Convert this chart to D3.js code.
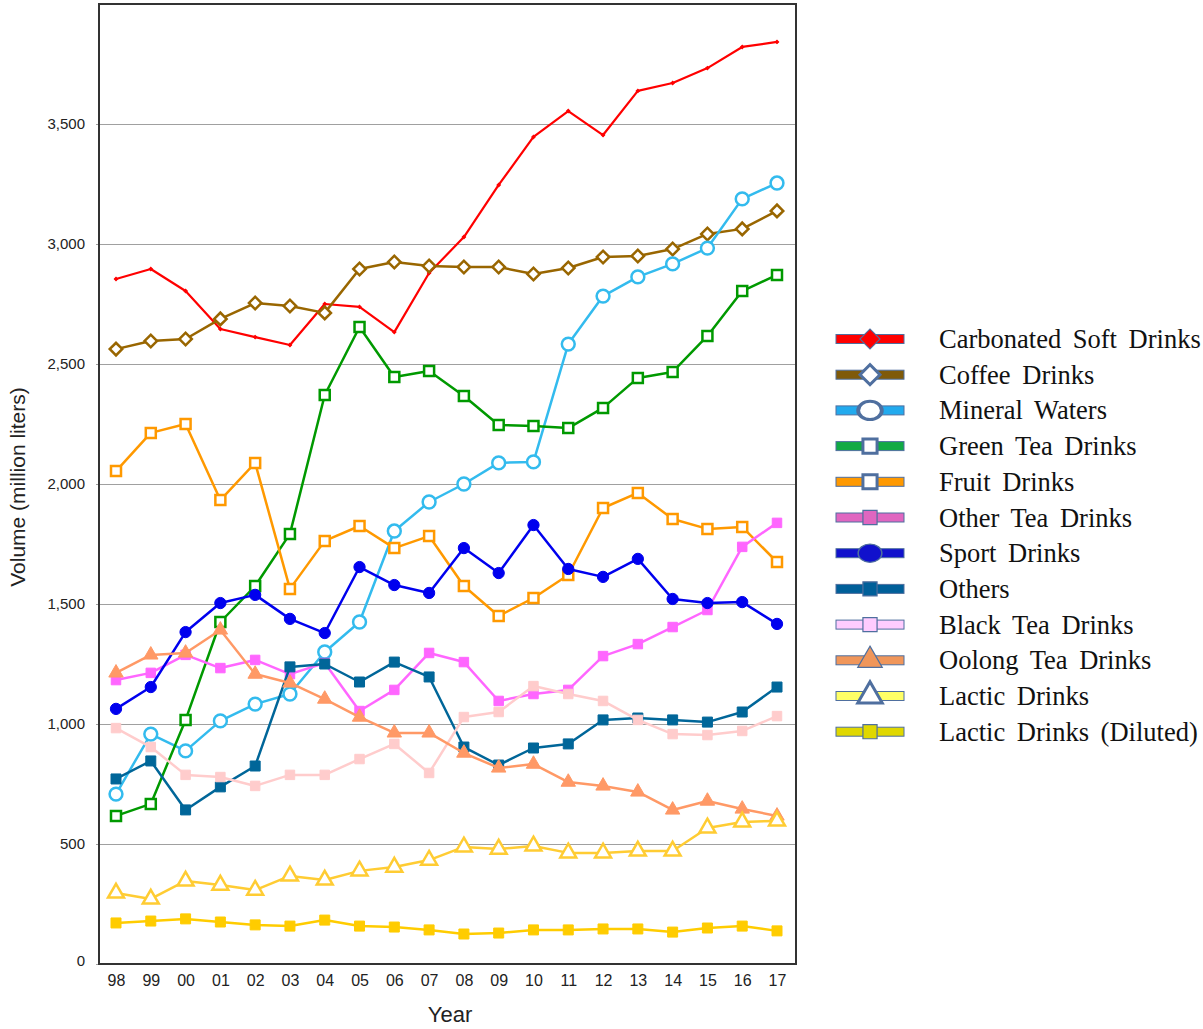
<!DOCTYPE html>
<html>
<head>
<meta charset="utf-8">
<script src="https://cdn.jsdelivr.net/npm/d3@7"></script>
<style>
  body { margin: 0; background: #fff; }
  svg { display: block; }
</style>
</head>
<body>
<div id="chart"></div>
<script>
/* DATA */
var years = ["98","99","00","01","02","03","04","05","06","07","08","09","10","11","12","13","14","15","16","17"];
var yTicks = [0, 500, 1000, 1500, 2000, 2500, 3000, 3500];

var carbonated = [2854,2896,2804,2646,2612,2579,2750,2738,2633,2879,3029,3246,3446,3554,3454,3638,3671,3733,3821,3842];
var coffee = [2562,2596,2604,2688,2754,2742,2713,2896,2925,2908,2904,2904,2875,2900,2946,2950,2979,3042,3063,3138];
var mineral = [708,958,888,1013,1083,1125,1300,1425,1804,1925,2000,2088,2092,2583,2783,2863,2917,2983,3188,3254];
var greenTea = [617,667,1017,1425,1575,1792,2371,2654,2446,2471,2367,2246,2242,2233,2317,2442,2467,2617,2804,2871];
var fruit = [2054,2213,2250,1933,2088,1563,1763,1825,1733,1783,1575,1450,1525,1621,1900,1963,1854,1813,1821,1675];
var otherTea = [1183,1213,1288,1233,1267,1208,1254,1054,1142,1296,1258,1096,1125,1142,1283,1333,1404,1475,1738,1838];
var sport = [1063,1154,1383,1504,1538,1438,1379,1654,1579,1546,1733,1629,1829,1646,1613,1688,1521,1504,1508,1417];
var others = [771,846,642,738,825,1238,1250,1175,1258,1196,904,829,900,917,1017,1025,1017,1008,1050,1154];
var blackTea = [983,904,788,779,742,788,788,854,917,796,1029,1050,1158,1125,1096,1017,958,954,971,1033];
var oolong = [1213,1288,1296,1392,1208,1171,1104,1029,963,963,879,817,833,758,742,717,642,679,646,617];
var lactic = [296,271,346,329,308,367,350,388,404,433,488,479,492,463,463,471,471,567,592,596];
var lacticDiluted = [171,179,188,175,163,158,183,158,154,142,125,129,142,142,146,146,133,150,158,138];

var seriesNames = ["Carbonated Soft Drinks","Coffee Drinks","Mineral Waters","Green Tea Drinks","Fruit Drinks","Other Tea Drinks","Sport Drinks","Others","Black Tea Drinks","Oolong Tea Drinks","Lactic Drinks","Lactic Drinks (Diluted)"];
var seriesValues = [carbonated, coffee, mineral, greenTea, fruit, otherTea, sport, others, blackTea, oolong, lactic, lacticDiluted];

/* STYLES (per series) */
var styles = [
  {color: "#ff0000", shape: "diamond", open: false, size: 6,  width: 2.2, band: "#ff0000"},
  {color: "#996600", shape: "diamond", open: true,  size: 78, width: 2.5, band: "#7f5a0a"},
  {color: "#33bbee", shape: "circle",  open: true,  size: 130, width: 2.5, band: "#22aaee"},
  {color: "#009900", shape: "square",  open: true,  size: 100, width: 2.5, band: "#11aa44"},
  {color: "#ff9900", shape: "square",  open: true,  size: 100, width: 2.5, band: "#ff9900"},
  {color: "#ff66ff", shape: "square",  open: false, size: 90, width: 2.5, band: "#e066c0"},
  {color: "#0000ee", shape: "circle",  open: false, size: 100, width: 2.5, band: "#1111cc"},
  {color: "#006699", shape: "square",  open: false, size: 100, width: 2.5, band: "#005f99"},
  {color: "#ffcccc", shape: "square",  open: false, size: 90, width: 2.5, band: "#ffccff"},
  {color: "#ff9966", shape: "triangle",open: false, size: 90, width: 2.5, band: "#f0965a"},
  {color: "#ffcc33", shape: "triangle",open: true,  size: 110, width: 2.5, band: "#ffff66"},
  {color: "#ffcc00", shape: "square",  open: false, size: 100, width: 2.5, band: "#e0d800"}
];

/* layout */
var W = 1203, H = 1029;
var plot = {left: 99, top: 4, right: 796, bottom: 964};

var svg = d3.select("#chart").append("svg")
  .attr("width", W)
  .attr("height", H);

var x = d3.scaleLinear().domain([0, years.length - 1]).range([116, 777]);
var y = d3.scaleLinear().domain([0, 4000]).range([plot.bottom, plot.top]);

/* gridlines + y labels */
var yAxis = svg.append("g")
  .attr("transform", "translate(" + plot.left + ",0)")
  .call(d3.axisLeft(y)
    .tickValues(yTicks)
    .tickSizeInner(-(plot.right - plot.left))
    .tickSizeOuter(0)
    .tickPadding(14)
    .tickFormat(d3.format(",")));
yAxis.select(".domain").remove();
yAxis.selectAll("line").attr("stroke", "#a0a0a0").attr("x1", -3);
yAxis.selectAll("text")
  .style("font-family", "Arial, 'Liberation Sans', sans-serif")
  .style("font-size", "15px")
  .attr("fill", "#222");
yAxis.selectAll(".tick").filter(function(d) { return d === 0; })
  .select("text").attr("dy", "0.1em");

/* plot frame */
svg.append("rect")
  .attr("x", plot.left)
  .attr("y", plot.top)
  .attr("width", plot.right - plot.left)
  .attr("height", plot.bottom - plot.top)
  .attr("fill", "none")
  .attr("stroke", "#333")
  .attr("stroke-width", 2);

/* x labels */
var xAxis = svg.append("g")
  .attr("transform", "translate(0," + plot.bottom + ")")
  .call(d3.axisBottom(x)
    .tickValues(d3.range(years.length))
    .tickSize(0)
    .tickPadding(11)
    .tickFormat(function(i) { return years[i]; }));
xAxis.select(".domain").remove();
xAxis.selectAll("text")
  .style("font-family", "Arial, 'Liberation Sans', sans-serif")
  .style("font-size", "16px")
  .attr("fill", "#222");

/* axis titles */
svg.append("text")
  .attr("x", 450)
  .attr("y", 1022)
  .attr("text-anchor", "middle")
  .style("font-family", "Arial, 'Liberation Sans', sans-serif")
  .style("font-size", "22px")
  .attr("fill", "#222")
  .text("Year");

svg.append("text")
  .attr("transform", "translate(25,487) rotate(-90)")
  .attr("text-anchor", "middle")
  .style("font-family", "Arial, 'Liberation Sans', sans-serif")
  .style("font-size", "21px")
  .attr("fill", "#222")
  .text("Volume (million liters)");

/* marker path helper */
function markerPath(shape, size) {
  var type = d3.symbolSquare;
  if (shape === "circle") type = d3.symbolCircle;
  if (shape === "triangle") type = d3.symbolTriangle;
  return d3.symbol().type(type).size(size)();
}

/* series lines and markers */
var line = d3.line()
  .x(function(d, i) { return x(i); })
  .y(function(d) { return y(d); });

seriesValues.forEach(function(vals, k) {
  var st = styles[k];
  var g = svg.append("g");
  g.append("path")
    .datum(vals)
    .attr("fill", "none")
    .attr("stroke", st.color)
    .attr("stroke-width", st.width)
    .attr("stroke-linejoin", "round")
    .attr("d", line);
  g.selectAll("path.mk")
    .data(vals)
    .enter().append("path")
    .attr("class", "mk")
    .attr("d", markerPath(st.shape, st.size))
    .attr("transform", function(d, i) {
      return "translate(" + x(i) + "," + y(d) + ")" + (st.shape === "diamond" ? " rotate(45)" : "");
    })
    .attr("fill", st.open ? "#fff" : st.color)
    .attr("stroke", st.color)
    .attr("stroke-width", st.open ? 2.5 : 1);
});

/* legend */
var legend = svg.append("g");
seriesNames.forEach(function(name, k) {
  var st = styles[k];
  var ly = 339 + k * 35.7;
  legend.append("rect")
    .attr("x", 836)
    .attr("y", ly - 4.5)
    .attr("width", 68)
    .attr("height", 9)
    .attr("fill", st.band)
    .attr("stroke", "#4f6f9f")
    .attr("stroke-width", 1);
  var msize = st.shape === "circle" ? 260 : (st.shape === "triangle" ? 260 : 200);
  legend.append("path")
    .attr("d", markerPath(st.shape, msize))
    .attr("transform", "translate(870," + ly + ")" + (st.shape === "diamond" ? " rotate(45)" : "") +
      (st.shape === "circle" ? " scale(1.3,1)" : ""))
    .attr("fill", st.open ? "#fff" : st.band)
    .attr("stroke", "#4f6f9f")
    .attr("stroke-width", st.open ? 3 : 1.2);
  legend.append("text")
    .attr("x", 939)
    .attr("y", ly + 9)
    .style("font-family", "'Liberation Serif', 'Times New Roman', serif")
    .style("font-size", "26.5px")
    .style("word-spacing", "5px")
    .attr("fill", "#111")
    .text(name);
});
</script>
</body>
</html>
